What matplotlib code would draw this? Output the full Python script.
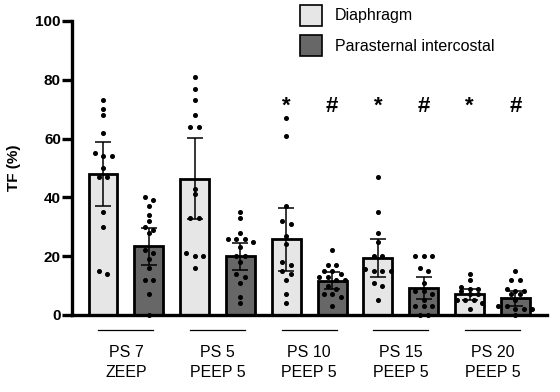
import matplotlib
matplotlib.use("Agg")
import matplotlib.pyplot as plt
import matplotlib.transforms as mtransforms
from matplotlib.patches import Patch
import numpy as np

plt.rcParams['font.family'] = ['Liberation Sans', 'DejaVu Sans']

# ---------------- data ----------------
categories = ["PS 7\nZEEP", "PS 5\nPEEP 5", "PS 10\nPEEP 5", "PS 15\nPEEP 5", "PS 20\nPEEP 5"]
series_names = ["Diaphragm", "Parasternal intercostal"]

dia_mean = [47.9, 46.3, 25.7, 19.3, 7.0]
dia_err = [10.8, 13.8, 10.7, 6.5, 2.0]
par_mean = [23.3, 19.9, 11.7, 9.2, 5.7]
par_err = [6.3, 4.7, 2.8, 3.7, 2.5]

dia_points = [
    [73, 70, 68, 62, 54, 54, 55, 50, 47, 47, 35, 30, 14, 15],
    [81, 77, 73, 68, 64, 64, 43, 41, 33, 33, 21, 20, 20, 16],
    [67, 61, 37, 31, 32, 27, 24, 18, 17, 15, 14, 12, 7, 4],
    [47, 35, 28, 25, 20, 20, 15, 15, 15, 15.5, 11, 10, 5],
    [14, 12, 9, 9, 9.6, 8, 7, 7, 5, 5, 5, 4, 2],
]
par_points = [
    [39, 40, 37, 34, 32, 30, 29, 28, 22, 21, 19, 16, 12, 12, 7, 0],
    [35, 33, 28, 26, 25, 26, 26, 23, 20, 20, 18, 14, 13, 11, 6, 4],
    [22, 17, 17, 15, 14, 15, 13, 12, 12, 13, 9, 10, 7, 7, 6, 3],
    [20, 20, 20, 16, 15, 11, 8, 8, 7, 5, 3, 3, 3, 0, 0],
    [15, 12, 12, 8, 8, 9, 7, 7, 5, 3, 2, 2, 2, 3, 0],
]

sig_dia = ["", "", "*", "*", "*"]
sig_par = ["", "", "#", "#", "#"]

# ---------------- style ----------------
col_dia = "#e6e6e6"
col_par = "#676767"

fig = plt.figure(figsize=(5.6, 3.92), dpi=100)
ax = fig.add_axes([72 / 560, 1 - 315 / 392, (547 - 72) / 560, (315 - 21) / 392])

n = len(categories)
x_dia = np.arange(n) * 2.0
x_par = np.arange(n) * 2.0 + 1.0
bw = 0.63

ax.bar(x_dia, dia_mean, width=bw, color=col_dia, edgecolor="black", linewidth=2.0, zorder=2)
ax.bar(x_par, par_mean, width=bw, color=col_par, edgecolor="black", linewidth=2.0, zorder=2)
ax.errorbar(x_dia, dia_mean, yerr=dia_err, fmt="none", ecolor="black", elinewidth=1.1,
            capsize=5.5, capthick=1.1, zorder=4)
ax.errorbar(x_par, par_mean, yerr=par_err, fmt="none", ecolor="black", elinewidth=1.1,
            capsize=5.5, capthick=1.1, zorder=4)

# simple row-based swarm (pixel scale)
px_x = 45.9   # pixels per x unit
px_y = 2.94   # pixels per y unit
gap = 8.5     # horizontal spacing in px
row_tol = 4.0


def swarm(xc, vals):
    vals = sorted(vals, reverse=True)
    rows = []
    for v in vals:
        if rows and abs(rows[-1][0] - v) * px_y <= row_tol:
            rows[-1].append(v)
        else:
            rows.append([v])
    xs, ys = [], []
    for r in rows:
        k = len(r)
        for i, v in enumerate(r):
            xs.append(xc + (i - (k - 1) / 2) * gap / px_x)
            ys.append(v)
    return xs, ys


for i in range(n):
    xs, ys = swarm(x_dia[i], dia_points[i])
    ax.plot(xs, ys, "o", color="black", ms=2.6, zorder=5, clip_on=False)
    xs, ys = swarm(x_par[i], par_points[i])
    ax.plot(xs, ys, "o", color="black", ms=2.6, zorder=5, clip_on=False)

for i in range(n):
    if sig_dia[i]:
        ax.text(x_dia[i], 69, sig_dia[i], ha="center", va="baseline", fontsize=16,
                fontweight="bold")
    if sig_par[i]:
        ax.text(x_par[i], 69, sig_par[i], ha="center", va="baseline", fontsize=16,
                fontweight="bold")

ax.set_xlim(-0.677, 9.69)
ax.set_ylim(0, 100)
ax.set_yticks([0, 20, 40, 60, 80, 100])
ax.set_xticks([])
for s in ["top", "right"]:
    ax.spines[s].set_visible(False)
for s in ["left", "bottom"]:
    ax.spines[s].set_linewidth(2.4)
ax.tick_params(axis="y", length=7, width=2.4, pad=1, labelsize=11)
for lab in ax.get_yticklabels():
    lab.set_fontweight("bold")
ax.set_ylabel("TF (%)", fontsize=11, fontweight="bold", labelpad=10)

# group labels below axis
trans = mtransforms.blended_transform_factory(ax.transData, ax.transAxes)
for i, c in enumerate(categories):
    xm = (x_dia[i] + x_par[i]) / 2
    ax.plot([xm - 0.6, xm + 0.6], [-0.051, -0.051], color="black", lw=0.9,
            transform=trans, clip_on=False)
    ax.text(xm, -0.162, c, ha="center", va="center", fontsize=11.5,
            linespacing=1.4, transform=trans)

handles = [Patch(facecolor=col_dia, edgecolor="black", linewidth=1.2),
           Patch(facecolor=col_par, edgecolor="black", linewidth=1.2)]
fig.legend(handles, series_names, loc="upper left", bbox_to_anchor=(300 / 560, 1 - 5 / 392),
           frameon=False, fontsize=11.5, handlelength=1.4, handleheight=1.6,
           handletextpad=0.8, labelspacing=0.6, borderpad=0, borderaxespad=0)

fig.savefig("out.png", dpi=100)
